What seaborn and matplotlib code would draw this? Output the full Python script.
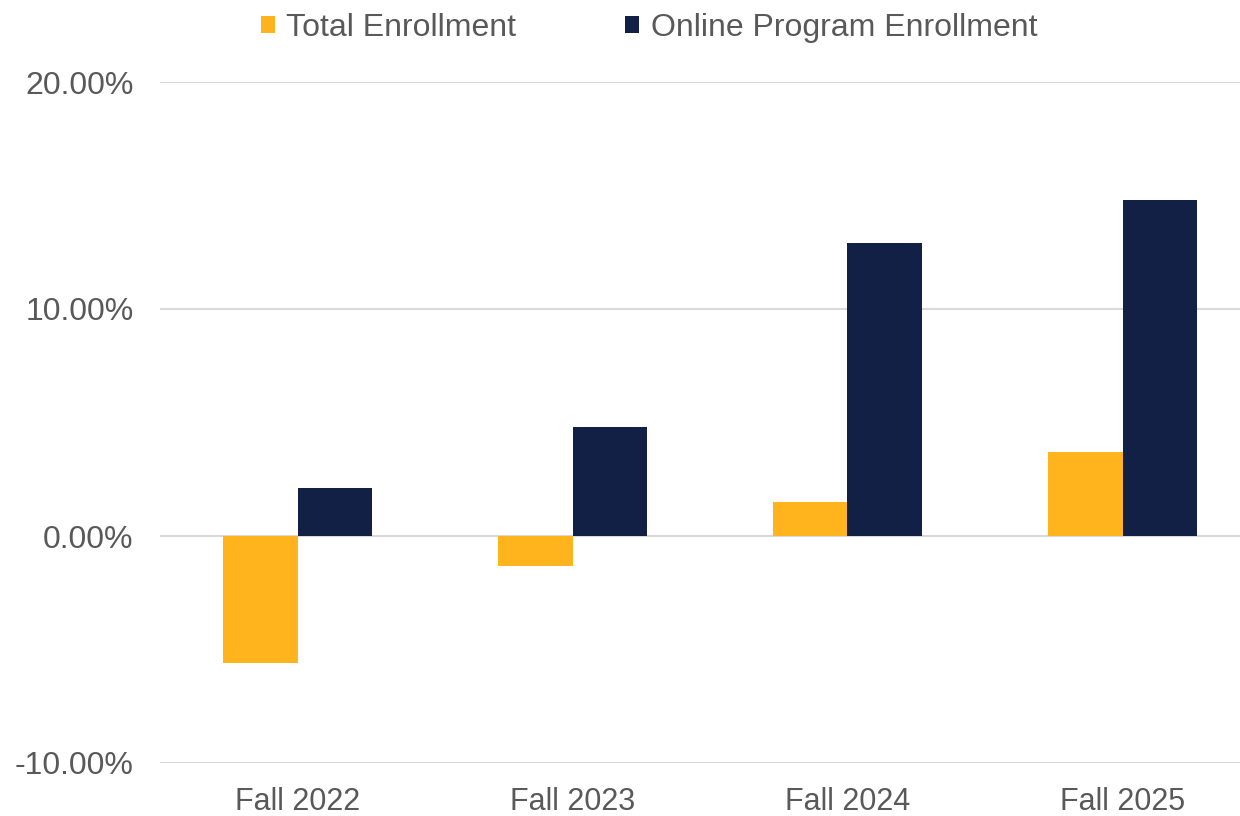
import matplotlib
matplotlib.use("Agg")
import matplotlib.pyplot as plt
import seaborn as sns
import pandas as pd
from matplotlib.patches import Patch
from matplotlib.ticker import FuncFormatter

categories = ["Fall 2022", "Fall 2023", "Fall 2024", "Fall 2025"]
total_enrollment = [-5.58, -1.32, 1.48, 3.69]
online_enrollment = [2.10, 4.80, 12.89, 14.79]
series_names = ["Total Enrollment", "Online Program Enrollment"]
colors = ["#FFB41E", "#112044"]

df = pd.DataFrame({
    "Term": categories * 2,
    "Series": [series_names[0]] * 4 + [series_names[1]] * 4,
    "Value": total_enrollment + online_enrollment,
})

sns.set_theme(style="white")
plt.rcParams["font.family"] = ["Liberation Sans", "DejaVu Sans"]

fig = plt.figure(figsize=(12.4, 8.16), dpi=100)
ax = fig.add_axes([160 / 1240, 1 - 763 / 816, 1100 / 1240, (763 - 82) / 816])

sns.barplot(data=df, x="Term", y="Value", hue="Series", palette=colors,
            width=0.54, ax=ax, legend=False, saturation=1, linewidth=0)

ax.set_ylim(-10, 20)
ax.set_yticks([-10, 0, 10, 20])
ax.yaxis.set_major_formatter(FuncFormatter(lambda v, p: f"{v:.2f}%"))
ax.grid(axis="y", color="#D9D9D9", linewidth=1.5)
ax.set_axisbelow(True)
for s in ax.spines.values():
    s.set_visible(False)
ax.set_xlabel("")
ax.set_ylabel("")
ax.tick_params(axis="both", colors="#595959", length=0)
ax.tick_params(axis="x", pad=17, labelsize=22)
ax.tick_params(axis="y", pad=19, labelsize=23)
for lbl in ax.get_xticklabels() + ax.get_yticklabels():
    lbl.set_color("#595959")

handles = [Patch(facecolor=c, edgecolor="none") for c in colors]
fig.legend(handles, series_names, loc="center", bbox_to_anchor=(649 / 1240, 1 - 28 / 816),
           ncol=2, frameon=False, fontsize=23, handlelength=0.45, handleheight=0.45,
           handletextpad=0.35, columnspacing=3.4, labelcolor="#595959")

fig.savefig("out.png", dpi=100)
